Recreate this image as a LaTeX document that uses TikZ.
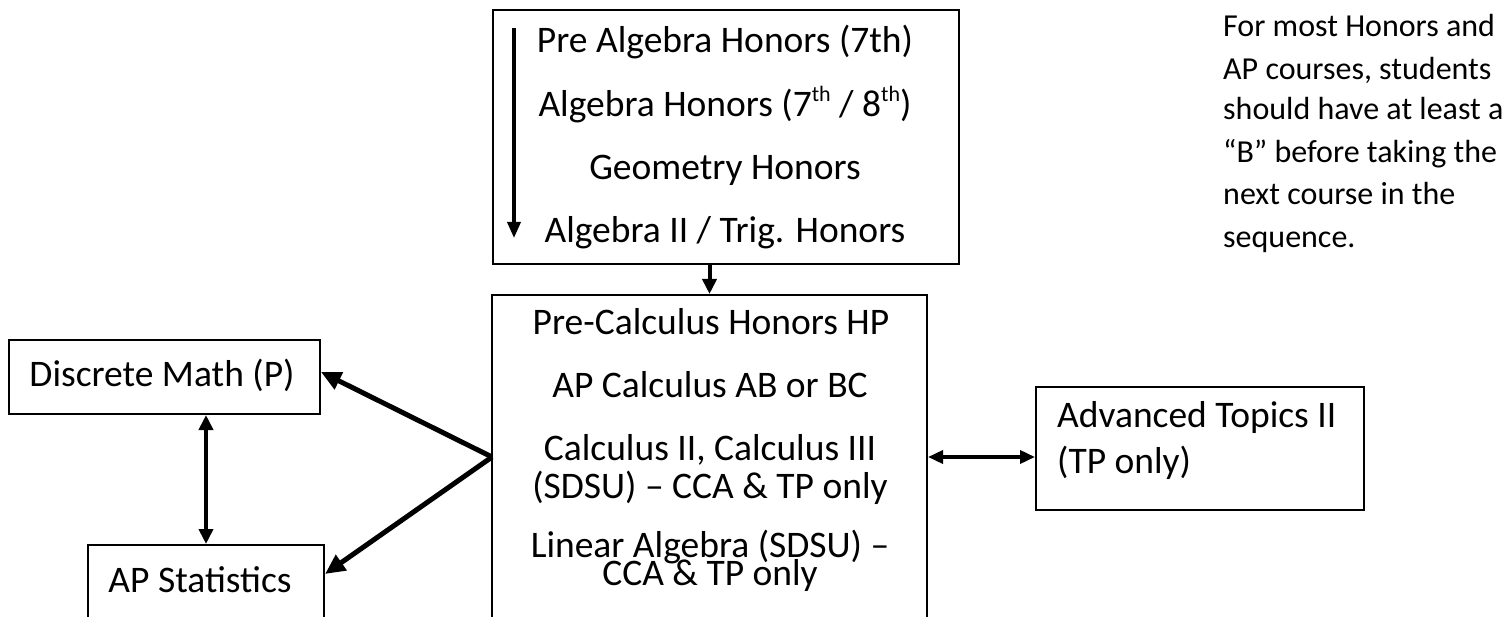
\documentclass[tikz,border=0pt]{standalone}
\usepackage{fontspec}
\setmainfont{Carlito}
\usetikzlibrary{arrows.meta}
\newcommand\mysup[1]{\raisebox{0.42em}{\fontsize{22}{22}\selectfont #1}}
\begin{document}
\begin{tikzpicture}[x=1pt,y=-1pt,
  box/.style={draw, line width=2pt, inner sep=0pt},
  main/.style={font=\fontsize{37.5}{44}\selectfont, inner sep=0pt, anchor=base},
  mainw/.style={font=\fontsize{37.5}{44}\selectfont, inner sep=0pt, anchor=base west},
  note/.style={font=\fontsize{32}{38}\selectfont, inner sep=0pt, anchor=base west},
  bigarr/.style={line width=5pt, -{Triangle[length=20pt,width=18pt]}},
  midarr/.style={line width=4pt, -{Triangle[length=15pt,width=14pt]}},
  dblarr/.style={line width=4pt, {Triangle[length=15pt,width=14pt]}-{Triangle[length=15pt,width=14pt]}},
  hdblarr/.style={line width=3.5pt, {Triangle[length=15pt,width=13pt]}-{Triangle[length=15pt,width=13pt]}}
]
\clip (0,0) rectangle (1507,617);
\fill[white] (0,0) rectangle (1507,617);

% boxes
\node[box, minimum width=466pt, minimum height=254pt] (top) at (726,137) {};
\node[box, minimum width=435pt, minimum height=405pt] (bot) at (709.5,497.5) {};
\node[box, minimum width=311pt, minimum height=74pt] (dm) at (164.5,377) {};
\node[box, minimum width=236pt, minimum height=155pt] (ap) at (206,622.5) {};
\node[box, minimum width=328pt, minimum height=123pt] (adv) at (1200,448.5) {};

% top box text
\node[main] (t1) at (725,53) {Pre Algebra Honors (7th)};
\node[main] (t2) at (725,117) {Algebra Honors (7\mysup{th} / 8\mysup{th})};
\node[main] (t3) at (725,180) {Geometry Honors};
\node[main] (t4) at (725,243) {Algebra II / Trig. Honors};

% bottom box text
\node[main] (b1) at (711,335) {Pre-Calculus Honors HP};
\node[main] (b2) at (710,398) {AP Calculus AB or BC};
\node[main] (b3) at (710,460) {Calculus II, Calculus III};
\node[main] (b4) at (710,498) {(SDSU) -- CCA \& TP only};
\node[main] (b5) at (710,557) {Linear Algebra (SDSU) --};
\node[main] (b6) at (710,585) {CCA \& TP only};

% side boxes text
\node[main] (dmt) at (162,387) {Discrete Math (P)};
\node[main] (apt) at (200,592) {AP Statistics};
\node[mainw] (adv1) at (1057,428) {Advanced Topics II};
\node[mainw] (adv2) at (1057,473) {(TP only)};

% note
\node[note] (n1) at (1223,37) {For most Honors and};
\node[note] (n2) at (1223,80) {AP courses, students};
\node[note] (n3) at (1223,120) {should have at least a};
\node[note] (n4) at (1223,163) {“B” before taking the};
\node[note] (n5) at (1223,205) {next course in the};
\node[note] (n6) at (1223,248) {sequence.};

% connectors
\coordinate (s1) at (514,28);
\coordinate (s2) at (514,238);
\draw[line width=3.5pt, -{Triangle[length=16pt,width=13pt]}] (s1) -- (s2);
\draw[midarr] (top.south -| bot.north) -- (bot.north);
\coordinate (v) at (492,457);
\draw[bigarr] (v) -- ([yshift=5pt]dm.east);
\draw[bigarr] (v) -- ([yshift=-30pt]ap.north east);
\draw[dblarr] (ap.north |- dm.south) -- (ap.north);
\draw[hdblarr] (bot.east |- v) -- (adv.west |- v);
\end{tikzpicture}
\end{document}
